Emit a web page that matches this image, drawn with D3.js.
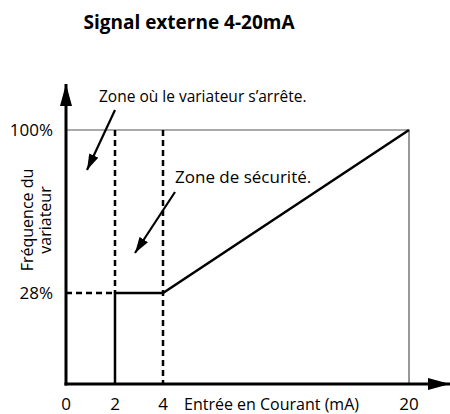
<!DOCTYPE html>
<html><head><meta charset="utf-8">
<script src="https://cdn.jsdelivr.net/npm/d3@7"></script>
<style>
body{margin:0;background:#fff;}
text{font-family:"Open Sans","DejaVu Sans",sans-serif;fill:#000;}
</style></head>
<body><svg id="c" width="450" height="414"></svg>
<script>
const title = "Signal externe 4-20mA";
const xTicks = [0, 2, 4, 20];
const yTicks = [28, 100];
const yTickLabels = ["28%", "100%"];
const curveX = [2, 2, 4, 20];
const curveY = [0, 28, 28, 100];
const xLabel = "Entrée en Courant (mA)";
const yLabelLines = ["Fréquence du", "variateur"];
const note1 = "Zone où le variateur s’arrête.";
const note2 = "Zone de sécurité.";

const svg = d3.select("#c");
// piecewise (non-uniform) schematic scales
const x = d3.scaleLinear().domain([0, 2, 4, 20]).range([66, 115, 163, 409]);
const y = d3.scaleLinear().domain([0, 28, 100]).range([384, 293, 130]);

const defs = svg.append("defs");
function marker(id, len, wid) {
  defs.append("marker").attr("id", id).attr("viewBox", `0 0 ${len} ${wid}`)
    .attr("preserveAspectRatio", "none")
    .attr("refX", len).attr("refY", wid / 2).attr("markerWidth", len).attr("markerHeight", wid)
    .attr("markerUnits", "userSpaceOnUse").attr("orient", "auto")
    .append("path").attr("d", `M0,0 L${len},${wid/2} L0,${wid} Z`).attr("fill", "#000");
}
marker("ah", 16, 10);
marker("big", 22, 12);

// title
svg.append("text").attr("x",189).attr("y",29).attr("text-anchor","middle")
  .style("font-weight","bold").style("font-size","19px").text(title);

// frame (top and right thin lines)
svg.append("path").attr("d",`M${x(0)},${y(100)}H${x(20)}V${y(0)}`)
  .attr("fill","none").attr("stroke","#555").attr("stroke-width",1.2);

// dashed guides
const dash = "6,4";
svg.append("line").attr("x1",x(2)).attr("x2",x(2)).attr("y1",y(100)).attr("y2",y(28))
  .attr("stroke","#000").attr("stroke-width",2.5).attr("stroke-dasharray",dash);
svg.append("line").attr("x1",x(4)).attr("x2",x(4)).attr("y1",y(100)).attr("y2",y(0))
  .attr("stroke","#000").attr("stroke-width",2.5).attr("stroke-dasharray",dash);
svg.append("line").attr("x1",x(0)).attr("x2",x(2)).attr("y1",y(28)).attr("y2",y(28))
  .attr("stroke","#000").attr("stroke-width",2.5).attr("stroke-dasharray",dash);

// curve
const line = d3.line().x(d=>x(d[0])).y(d=>y(d[1]));
svg.append("path").datum(curveX.map((v,i)=>[v,curveY[i]])).attr("d",line)
  .attr("fill","none").attr("stroke","#000").attr("stroke-width",2.5);

// axes with arrows
svg.append("line").attr("x1",x(0)).attr("y1",y(0)+1.5).attr("x2",x(0)).attr("y2",84)
  .attr("stroke","#000").attr("stroke-width",3).attr("marker-end","url(#big)");
svg.append("line").attr("x1",x(0)-1.5).attr("y1",y(0)).attr("x2",450).attr("y2",y(0))
  .attr("stroke","#000").attr("stroke-width",3).attr("marker-end","url(#big)");

// tick labels
svg.selectAll(".xt").data(xTicks).enter().append("text").attr("class","xt")
  .attr("x",d=>x(d)).attr("y",410).attr("text-anchor","middle").style("font-size","17px").text(d=>d);
svg.selectAll(".yt").data(yTicks).enter().append("text").attr("class","yt")
  .attr("x",53).attr("y",d=>y(d)+6).attr("text-anchor","end").style("font-size","17px")
  .text((d,i)=>yTickLabels[i]);

// axis labels
svg.append("text").attr("x",184).attr("y",410).style("font-size","16px").text(xLabel);
const yl = svg.append("text").attr("transform","translate(33,220) rotate(-90)").attr("text-anchor","middle").style("font-size","16px");
yl.append("tspan").attr("x",0).attr("dy",0).text(yLabelLines[0]);
yl.append("tspan").attr("x",0).attr("dy",18).text(yLabelLines[1]);

// annotations
svg.append("text").attr("x",99).attr("y",102).style("font-size","15.5px").text(note1);
svg.append("line").attr("x1",115).attr("y1",110).attr("x2",87).attr("y2",170)
  .attr("stroke","#000").attr("stroke-width",2.2).attr("marker-end","url(#ah)");
svg.append("text").attr("x",175).attr("y",183).style("font-size","17px").text(note2);
svg.append("line").attr("x1",175).attr("y1",192).attr("x2",135).attr("y2",253)
  .attr("stroke","#000").attr("stroke-width",2.2).attr("marker-end","url(#ah)");
</script></body></html>
